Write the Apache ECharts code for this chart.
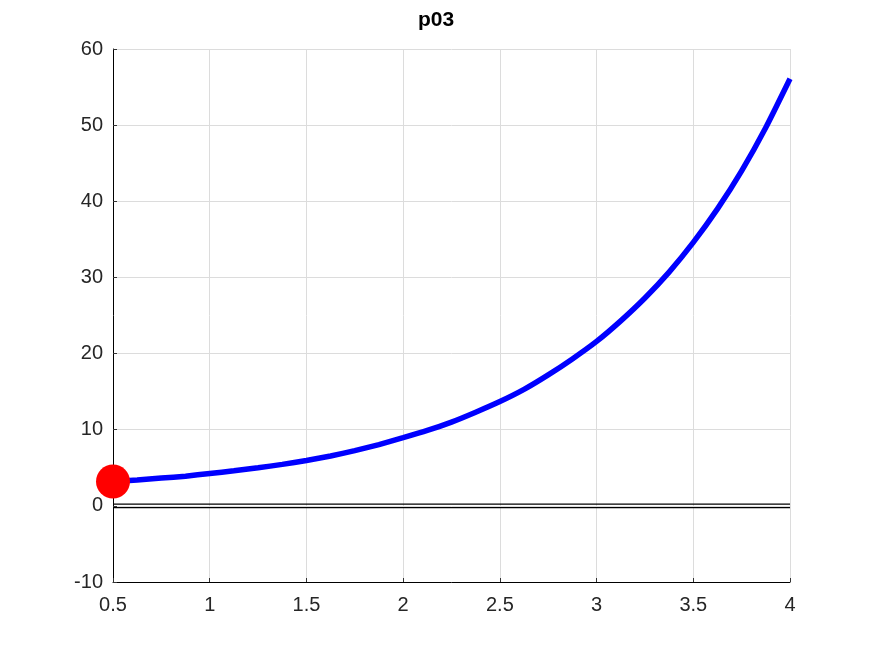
<!DOCTYPE html>
<html><head><meta charset="utf-8">
<script src="https://cdn.jsdelivr.net/npm/echarts@6/dist/echarts.min.js"></script>
<style>html,body{margin:0;padding:0;background:#fff}#c{width:872px;height:654px}</style>
</head><body><div id="c"></div>
<script>
const xValues = [0.5,0.625,0.75,0.875,1,1.125,1.25,1.375,1.5,1.625,1.75,1.875,2,2.125,2.25,2.375,2.5,2.625,2.75,2.875,3,3.125,3.25,3.375,3.5,3.625,3.75,3.875,4];
const yValues = [3.2,3.4,3.65,3.9,4.25,4.6,5.0,5.45,5.95,6.55,7.25,8.05,8.95,9.9,11.0,12.3,13.7,15.3,17.2,19.3,21.6,24.3,27.3,30.7,34.6,39.0,44.0,49.7,56.1];
const startPoint = [0.5, 3.2];
const zeroLines = [0.22, -0.22];
const titleText = 'p03';

const chart = echarts.init(document.getElementById('c'));
const font = 'Liberation Sans, Arial, sans-serif';
function hline(v){ return {type:'line',data:[[0.5,v],[4,v]],symbol:'none',lineStyle:{color:'#000',width:1.2},z:3,silent:true}; }
chart.setOption({
  animation:false,
  title:{text:titleText,left:'center',top:5,textStyle:{fontFamily:font,fontSize:21,fontWeight:'bold',color:'#000'}},
  grid:{left:113,right:82,top:49,bottom:72,containLabel:false},
  xAxis:{type:'value',min:0.5,max:4,interval:0.5,
    axisLine:{show:true,onZero:false,lineStyle:{color:'#000',width:1}},
    axisTick:{show:true,inside:true,length:4,lineStyle:{color:'#333'}},
    axisLabel:{fontFamily:font,fontSize:20,color:'#262626',margin:13,formatter:v=>String(v)},
    splitLine:{show:true,lineStyle:{color:'#dcdcdc',width:1}}},
  yAxis:{type:'value',min:-10,max:60,interval:10,
    axisLine:{show:true,onZero:false,lineStyle:{color:'#000',width:1}},
    axisTick:{show:true,inside:true,length:4,lineStyle:{color:'#333'}},
    axisLabel:{fontFamily:font,fontSize:20,color:'#262626',margin:10},
    splitLine:{show:true,lineStyle:{color:'#dcdcdc',width:1}}},
  series:[
    hline(zeroLines[0]),
    hline(zeroLines[1]),
    {type:'line',data:xValues.map((x,i)=>[x,yValues[i]]),smooth:0.2,symbol:'none',
     lineStyle:{color:'#0000ff',width:5.5},z:4},
    {type:'scatter',data:[startPoint],symbolSize:34,itemStyle:{color:'#ff0000',opacity:1},z:5}
  ]
});
</script></body></html>
